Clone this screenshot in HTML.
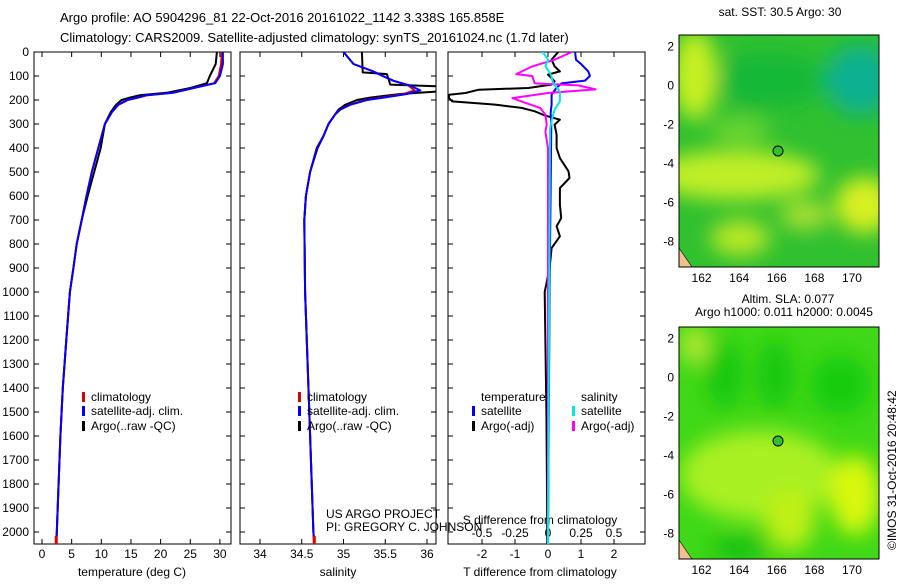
<!DOCTYPE html>
<html><head><meta charset="utf-8"><style>
body{margin:0;background:#fff;width:900px;height:580px;overflow:hidden}
svg{font-family:"Liberation Sans",sans-serif;font-size:12px}
</style></head><body>
<svg id="c" width="900" height="580">
<defs>
<filter id="bl" x="-50%" y="-50%" width="200%" height="200%"><feGaussianBlur stdDeviation="10"/></filter>
<clipPath id="m1"><rect x="679" y="35" width="200" height="232"/></clipPath>
<clipPath id="m2"><rect x="679" y="327" width="200" height="232"/></clipPath>
<clipPath id="p1"><rect x="34" y="52" width="197" height="492"/></clipPath>
<clipPath id="p2"><rect x="240" y="52" width="196" height="492"/></clipPath>
<clipPath id="p3"><rect x="448" y="52" width="197" height="492"/></clipPath>
</defs>
<text x="60" y="22" font-size="13">Argo profile: AO 5904296_81 22-Oct-2016 20161022_1142 3.338S 165.858E</text>
<text x="60" y="42" font-size="13">Climatology: CARS2009. Satellite-adjusted climatology: synTS_20161024.nc (1.7d later)</text>
<g id="axes"></g>
<g id="maps">
<g clip-path="url(#m1)">
<rect x="679" y="35" width="200" height="232" fill="#30c030"/>
<g filter="url(#bl)">
<ellipse cx="695" cy="75" rx="22" ry="45" fill="#c8f020"/>
<ellipse cx="735" cy="175" rx="85" ry="25" fill="#c0ee28"/>
<ellipse cx="865" cy="205" rx="30" ry="28" fill="#d8f020"/>
<ellipse cx="740" cy="238" rx="30" ry="18" fill="#b8e828"/>
<ellipse cx="805" cy="215" rx="25" ry="15" fill="#a8e030"/>
<ellipse cx="860" cy="80" rx="35" ry="35" fill="#10b090"/>
<ellipse cx="770" cy="80" rx="55" ry="28" fill="#18b838"/>
<ellipse cx="740" cy="130" rx="30" ry="12" fill="#70d830"/>
</g>
<polygon points="679,248 679,267 692,267" fill="#f0c090" stroke="#000" stroke-width="0.6"/>
</g>
<rect x="679" y="35" width="200" height="232" fill="none" stroke="#000"/>
<circle cx="778" cy="151" r="5" fill="#30c030" stroke="#000"/>
<g clip-path="url(#m2)">
<rect x="679" y="327" width="200" height="232" fill="#40d818"/>
<g filter="url(#bl)">
<ellipse cx="760" cy="475" rx="80" ry="45" fill="#a8f020"/>
<ellipse cx="855" cy="495" rx="25" ry="40" fill="#d8f810"/>
<ellipse cx="790" cy="520" rx="25" ry="30" fill="#c0f018"/>
<ellipse cx="695" cy="345" rx="15" ry="20" fill="#b0e830"/>
<ellipse cx="725" cy="375" rx="18" ry="35" fill="#18c810"/>
<ellipse cx="775" cy="375" rx="18" ry="35" fill="#18c810"/>
<ellipse cx="840" cy="385" rx="30" ry="30" fill="#18cc10"/>
<ellipse cx="740" cy="548" rx="30" ry="12" fill="#18c010"/>
</g>
<polygon points="679,540 679,559 692,559" fill="#f0c090" stroke="#000" stroke-width="0.6"/>
</g>
<rect x="679" y="327" width="200" height="232" fill="none" stroke="#000"/>
<circle cx="778" cy="441" r="5" fill="#30c030" stroke="#000"/>
<text x="780" y="16" text-anchor="middle">sat. SST: 30.5 Argo: 30</text>
<text x="788" y="303" text-anchor="middle">Altim. SLA: 0.077</text>
<text x="784" y="316" text-anchor="middle">Argo h1000: 0.011 h2000: 0.0045</text>
<text transform="translate(896,550) rotate(-90)">©IMOS 31-Oct-2016 20:48:42</text>
</g>
</svg>
<script>
const tDep=[0,50,100,130,150,170,180,190,200,220,250,300,400,500,600,700,800,900,1000,1200,1400,1600,1800,2000,2050];
const tempClim=[30.3,30.2,29.8,29.0,25.5,22,17.8,16.2,14.5,12.9,11.8,10.6,9.5,8.4,7.5,6.7,5.85,5.3,4.7,4.1,3.5,3.1,2.8,2.5,2.4];
const tempSat=[30.5,30.5,30.0,29.2,25.6,22.1,17.6,16.0,14.3,12.8,11.8,10.6,9.5,8.4,7.5,6.7,5.85,5.3,4.7,4.1,3.5,3.1,2.8,2.5,2.4];
const tempArgo=[29.5,29.3,28.3,27.8,25,21,16.5,14.8,13.4,12.5,11.6,10.6,9.9,8.8,7.7,6.7,5.85,5.3,4.7,4.1,3.5,3.1,2.8,2.5,2.4];
const sDep=[0,50,80,100,120,140,160,175,190,200,220,240,260,300,350,400,500,600,700,1000,1500,2000,2050];
const salSat=[35.0,35.12,35.35,35.47,35.6,35.8,35.92,35.76,35.48,35.28,35.08,34.96,34.9,34.82,34.76,34.68,34.6,34.55,34.53,34.54,34.59,34.64,34.65];
const salClim=[35.0,35.12,35.35,35.47,35.6,35.78,35.85,35.72,35.45,35.26,35.07,34.96,34.9,34.82,34.76,34.68,34.6,34.55,34.53,34.54,34.59,34.64,34.65];
const saDep=[0,85,92,136,143,164,175,190,200,220,240,260,300,350,400,500,600,700,1000,1500,2000,2050];
const salArgo=[35.22,35.23,35.52,35.56,36.14,36.14,35.68,35.32,35.16,35.02,34.94,34.9,34.82,34.76,34.69,34.6,34.55,34.53,34.54,34.59,34.64,34.65];
const dtaDep=[0,32,60,81,94,122,136,150,157,171,178,192,206,219,233,247,264,282,303,344,400,442,497,525,567,636,692,726,768,817,900,1000,1500,2000,2050];
const dTargo=[0.31,0.11,0.2,0.36,0,0.2,0.1,-0.6,-2.1,-2.5,-3,-3,-2.9,-1.6,-0.8,-0.4,-0.1,0.36,0.2,0.26,0.26,0.36,0.62,0.65,0.36,0.36,0.4,0.26,0.36,0.11,0.05,-0.1,-0.05,-0.02,-0.02];
const dtsDep=[0,32,50,81,100,119,131,150,178,219,254,300,1000,2050];
const dTsat=[0.82,0.85,1.0,1.22,1.27,1.12,0.41,0.25,0.11,0.11,0.08,0.1,0.05,0.0];
const dsaDep=[0,32,60,92,100,131,139,156,171,192,212,233,261,303,333,400,2050];
const dSargo=[0.18,0.05,-0.12,-0.24,-0.12,-0.1,0.23,0.36,0.0,-0.27,-0.17,-0.06,-0.02,-0.01,-0.02,0.0,0.0];
const dssDep=[0,32,60,92,131,164,206,240,280,320,2050];
const dSsat=[-0.04,0.0,-0.02,0.02,0.04,0.09,0.09,0.05,0.03,0.015,0.0];
const depthTicks=[0,100,200,300,400,500,600,700,800,900,1000,1100,1200,1300,1400,1500,1600,1700,1800,1900,2000];
const tTicks=[0,5,10,15,20,25,30];
const sTicks=[34,34.5,35,35.5,36];
const dtTicks=[-2,-1,0,1,2];
const dsTicks=[-0.5,-0.25,0,0.25,0.5];
const dsLabels=["-0.5","-0.25","0","0.25","0.5"];

const NS="http://www.w3.org/2000/svg";
const g=document.getElementById('axes');
const yD=d=>52+d*0.24;
const xT=t=>42+t*5.93;
const xS=s=>260+(s-34)*83.5;
const xDT=t=>548+t*33;
const xDS=s=>548+s*132;
function el(tag,attrs,parent){const e=document.createElementNS(NS,tag);for(const k in attrs)e.setAttribute(k,attrs[k]);(parent||g).appendChild(e);return e;}
function txt(x,y,s,anchor,name){const t=el('text',{x:x,y:y,'text-anchor':anchor||'start'});t.textContent=s;


return t;}
const panels=[[34,197,'temperature-panel'],[240,196,'salinity-panel'],[448,197,'difference-panel']];
panels.forEach(p=>{
const r=el('rect',{x:p[0],y:52,width:p[1],height:492,fill:'none',stroke:'#000'});


depthTicks.forEach(d=>{const y=yD(d);el('line',{x1:p[0],x2:p[0]+5,y1:y,y2:y,stroke:'#000'});el('line',{x1:p[0]+p[1]-5,x2:p[0]+p[1],y1:y,y2:y,stroke:'#000'});});
});
depthTicks.forEach(d=>txt(29,yD(d)+4,String(d),'end','depth-tick-label'));
function xticks(arr,fx,y,top){arr.forEach(v=>{const x=fx(v);el('line',{x1:x,x2:x,y1:544,y2:539,stroke:'#000'});if(top)el('line',{x1:x,x2:x,y1:52,y2:57,stroke:'#000'});txt(x,y,String(v),'middle','x-tick-label');});}
xticks(tTicks,xT,558,true);
xticks(sTicks,xS,558,true);
xticks(dtTicks,xDT,558,false);
dsTicks.forEach((v,i)=>{const x=xDS(v);el('line',{x1:x,x2:x,y1:52,y2:57,stroke:'#000'});txt(x,537,dsLabels[i],'middle','s-diff-tick-label');});
txt(132,576,'temperature (deg C)','middle','x-axis-title-temperature');
txt(338,576,'salinity','middle','x-axis-title-salinity');
txt(540,576,'T difference from climatology','middle','x-axis-title-t-diff');
txt(540,524,'S difference from climatology','middle','x-axis-title-s-diff');
txt(326,518,'US ARGO PROJECT','start','credit-project');
txt(326,531,'PI: GREGORY C. JOHNSON','start','credit-pi');
function line(dep,xs,fx,color,w,clip,name){const pts=xs.map((v,i)=>fx(v).toFixed(1)+','+yD(dep[i]).toFixed(1)).join(' ');
const pl=el('polyline',{points:pts,fill:'none',stroke:color,'stroke-width':w,'clip-path':'url(#'+clip+')','stroke-linejoin':'round'});

}
line(tDep,tempArgo,xT,'#000',2,'p1','temp-argo-line');
line(tDep,tempClim,xT,'#e00000',2,'p1','temp-climatology-line');
line(tDep,tempSat,xT,'#0000ff',2,'p1','temp-satellite-line');
line(saDep,salArgo,xS,'#000',2,'p2','sal-argo-line');
line(sDep,salClim,xS,'#e00000',2,'p2','sal-climatology-line');
line(sDep,salSat,xS,'#0000ff',2,'p2','sal-satellite-line');
line(dtaDep,dTargo,xDT,'#000',2,'p3','t-diff-argo-line');
line(dtsDep,dTsat,xDT,'#0000ff',2,'p3','t-diff-satellite-line');
line(dsaDep,dSargo,xDS,'#ff00ff',2,'p3','s-diff-argo-line');
line(dssDep,dSsat,xDS,'#00e8e8',2,'p3','s-diff-satellite-line');
el('rect',{x:xT(tempClim[24])-1.5,y:536,width:3,height:8,fill:'#e00000'});
el('rect',{x:xS(salClim[22])-1.5,y:536,width:3,height:8,fill:'#e00000'});
function leg(x,y,color,label,name){el('rect',{x:x,y:y-9,width:3,height:10,fill:color});txt(x+9,y,label,'start',name);}
[82,298].forEach(x=>{
leg(x,401,'#e00000','climatology','legend-climatology');
leg(x,415,'#0000ff','satellite-adj. clim.','legend-satellite');
leg(x,430,'#000','Argo(..raw -QC)','legend-argo');});
txt(481,401,'temperature','start','legend-temperature-header');
leg(472,415,'#0000ff','satellite','legend-t-satellite');
leg(472,430,'#000','Argo(-adj)','legend-t-argo');
txt(581,401,'salinity','start','legend-salinity-header');
leg(572,415,'#00e8e8','satellite','legend-s-satellite');
leg(572,430,'#ff00ff','Argo(-adj)','legend-s-argo');
const lonTicks=[162,164,166,168,170];
const latTicks=[2,0,-2,-4,-6,-8];
const xLon=l=>679+(l-160.8)*18.8;
[[35,267],[327,559]].forEach(m=>{const yL=la=>m[0]+(2.6-la)*(m[1]-m[0])/11.9;
lonTicks.forEach(l=>{const x=xLon(l);el('line',{x1:x,x2:x,y1:m[0],y2:m[0]+4,stroke:'#000'});el('line',{x1:x,x2:x,y1:m[1],y2:m[1]-4,stroke:'#000'});txt(x,m[1]+15,String(l),'middle','map-lon-label');});
latTicks.forEach(la=>{const y=yL(la);el('line',{x1:879,x2:875,y1:y,y2:y,stroke:'#000'});el('line',{x1:679,x2:683,y1:y,y2:y,stroke:'#000'});txt(674,y+4,String(la),'end','map-lat-label');});});
</script>
</body></html>
